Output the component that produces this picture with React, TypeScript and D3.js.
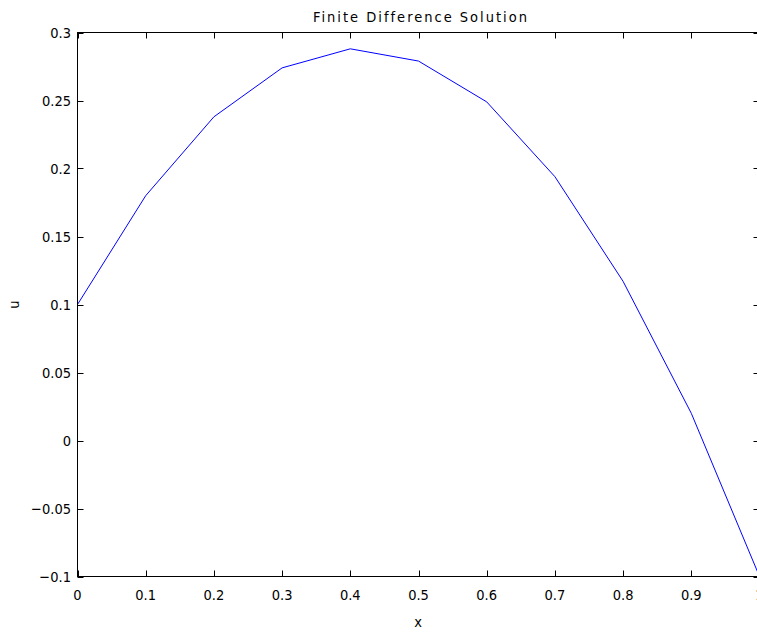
import React from "react";
import * as d3 from "d3";

const xValues = [0, 0.1, 0.2, 0.3, 0.4, 0.5, 0.6, 0.7, 0.8, 0.9, 1.0];
const uValues = [0.1, 0.18, 0.238, 0.274, 0.288, 0.279, 0.249, 0.194, 0.117, 0.02, -0.1];
const xTicks = [0, 0.1, 0.2, 0.3, 0.4, 0.5, 0.6, 0.7, 0.8, 0.9, 1];
const yTicks = [-0.1, -0.05, 0, 0.05, 0.1, 0.15, 0.2, 0.25, 0.3];
const title = "Finite Difference Solution";
const xLabel = "x";
const yLabel = "u";

const W = 757;
const H = 632;
const left = 77.5;
const right = 759.5;
const top = 32.5;
const bottom = 576.5;
const font = "'DejaVu Sans Condensed', 'DejaVu Sans', sans-serif";
const fs = 14.5;

function fmt(v: number): string {
  const s = d3.format("~g")(v);
  return s.replace("-", "\u2212");
}

export default function App() {
  const x = d3.scaleLinear().domain([0, 1]).range([left, right]);
  const y = d3.scaleLinear().domain([-0.1, 0.3]).range([bottom, top]);
  const line = d3
    .line<number>()
    .x((_, i) => x(xValues[i]))
    .y((d) => y(d));
  const tl = 6;
  return (
    <svg
      width={W}
      height={H}
      style={{ position: "fixed", left: 0, top: 0, background: "#fff" }}
      fontFamily={font}
    >
      <rect x={0} y={0} width={W} height={H} fill="#fff" />
      <path d={line(uValues) || ""} fill="none" stroke="#0000ff" strokeWidth={1} />
      <rect
        x={left}
        y={top}
        width={right - left}
        height={bottom - top}
        fill="none"
        stroke="#000"
        strokeWidth={1}
      />
      {xTicks.map((t) => (
        <g key={"x" + t}>
          <line x1={Math.round(x(t)) + 0.5} x2={Math.round(x(t)) + 0.5} y1={bottom} y2={bottom - tl} stroke="#000" />
          <line x1={Math.round(x(t)) + 0.5} x2={Math.round(x(t)) + 0.5} y1={top} y2={top + tl} stroke="#000" />
          <text x={x(t)} y={600} textAnchor="middle" fontSize={fs} fill="#000">
            {fmt(t)}
          </text>
        </g>
      ))}
      {yTicks.map((t) => (
        <g key={"y" + t}>
          <line x1={left} x2={left + tl} y1={Math.round(y(t)) + 0.5} y2={Math.round(y(t)) + 0.5} stroke="#000" />
          <line x1={right} x2={right - tl} y1={Math.round(y(t)) + 0.5} y2={Math.round(y(t)) + 0.5} stroke="#000" />
          <text x={71} y={y(t)} dy="0.36em" textAnchor="end" fontSize={fs} fill="#000">
            {fmt(t)}
          </text>
        </g>
      ))}
      <text x={421} y={22} textAnchor="middle" fontSize={fs} letterSpacing={2} fill="#000">
        {title}
      </text>
      <text x={418} y={627} textAnchor="middle" fontSize={fs} fill="#000">
        {xLabel}
      </text>
      <text
        transform={`translate(18.5,${(top + bottom) / 2}) rotate(-90)`}
        textAnchor="middle"
        fontSize={fs}
        fill="#000"
      >
        {yLabel}
      </text>
    </svg>
  );
}
